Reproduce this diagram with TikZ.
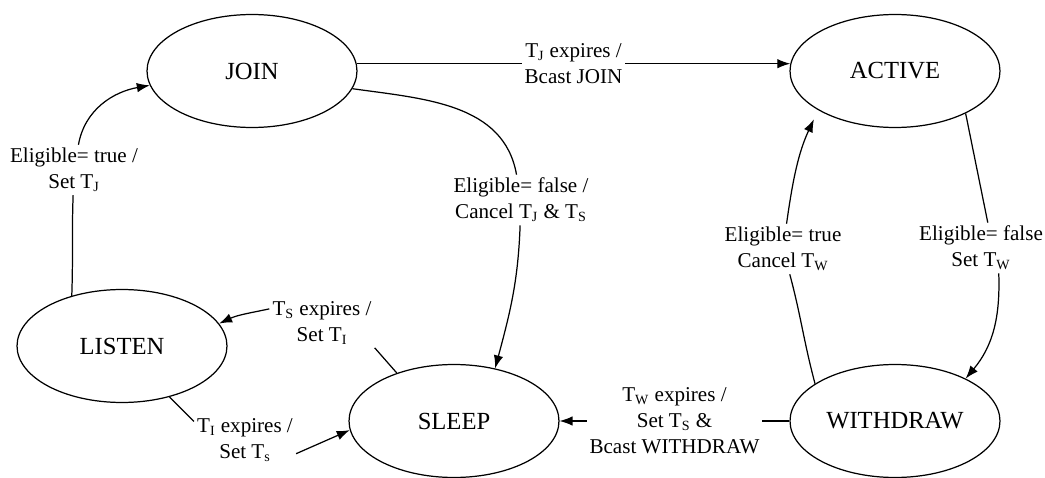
\documentclass[tikz,border=0pt]{standalone}
\usepackage{fontspec}
\setmainfont{Liberation Serif}
\usetikzlibrary{arrows.meta,shapes.geometric}

\begin{document}
\begin{tikzpicture}[x=0.02cm, y=0.02cm, line width=0.7pt, >={Latex[length=2.6mm,width=1.9mm]},
    state/.style={draw, ellipse, minimum width=4.2cm, minimum height=2.26cm, inner sep=0pt, font=\fontsize{14}{16}\selectfont},
    lbl/.style={fill=white, align=center, inner sep=1.5pt, font=\fontsize{12}{14.8}\selectfont}]
    \useasboundingbox (0,0) rectangle (1045,477) ;

    \node [state] (join) at (252,406) {JOIN} ;
    \node [state] (active) at (895,406) {ACTIVE} ;
    \node [state] (listen) at (122,131) {LISTEN} ;
    \node [state] (sleep) at (454,56) {SLEEP} ;
    \node [state] (withdraw) at (895,56) {WITHDRAW} ;

    \node [lbl] (lelt) at (74,307) {Eligible= true /\\Set T\textsubscript{J}} ;
    \node [lbl] (lelf) at (521,277) {Eligible= false /\\Cancel T\textsubscript{J} \& T\textsubscript{S}} ;
    \node [lbl] (lcan) at (783,228) {Eligible= true\\Cancel T\textsubscript{W}} ;
    \node [lbl] (lsetw) at (981,229) {Eligible= false\\Set T\textsubscript{W}} ;
    \node [lbl] (lts) at (322,154) {T\textsubscript{S} expires /\\Set T\textsubscript{I}} ;
    \node [lbl] (lti) at (245,37) {T\textsubscript{I} expires /\\Set T\textsubscript{s}} ;

    \draw [->] (join.4) -- node [lbl] {T\textsubscript{J} expires /\\Bcast JOIN} (active.176) ;
    \draw [->] (listen.135) to [out=88, in=-92] (lelt) to [out=80, in=190] (join.188) ;
    \draw [->] (join.-10) to [out=-8, in=100] (lelf) to [out=-92, in=75] (sleep.52) ;
    \draw [->] (active.-31) -- (lsetw.75) (lsetw.-55) to [out=-88, in=50] (withdraw.31) ;
    \draw [->, shorten >=2mm] (withdraw.155) to [out=105, in=-75] (lcan) to [out=82, in=-115] (active.207) ;
    \draw [->] (sleep.140) -- (lts.south east) (lts.165) to [out=192, in=25] (listen.13) ;
    \draw [->] (listen.-47) -- (lti.160) (lti.-15) -- (sleep.185) ;
    \draw [->] (withdraw) -- node [lbl] {T\textsubscript{W} expires /\\Set T\textsubscript{S} \&\\Bcast WITHDRAW} (sleep) ;
\end{tikzpicture}
\end{document}
